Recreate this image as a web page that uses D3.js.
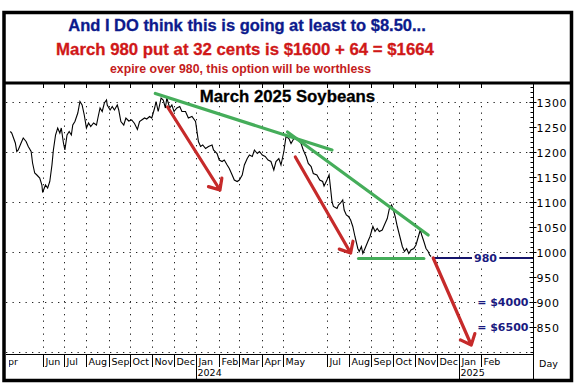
<!DOCTYPE html>
<html>
<head>
<meta charset="utf-8">
<script src="https://cdn.jsdelivr.net/npm/d3@7"></script>
<style>
  body { margin: 0; background: #fff; }
</style>
</head>
<body>
<div id="chart"></div>
<script>
var width = 584, height = 387;

// header text
var headLines = ['And I DO think this is going at least to $8.50...',
  'March 980 put at 32 cents is $1600 + 64 = $1664',
  'expire over 980, this option will be worthless'];
var chartTitle = 'March 2025 Soybeans';

// closes: [days after 1 Apr 2023, cents/bu]
var seriesStart = new Date(2023, 3, 1);
var closeSeries = [
  [16,1241],[18,1238],[23,1218],[25,1201],[27,1204],[31,1218],[34,1228],[38,1221],[41,1211],[45,1201],
  [47,1178],[50,1158],[53,1154],[57,1148],[60,1134],[61,1119],[65,1134],[68,1128],[71,1141],[74,1174],
  [76,1204],[79,1234],[82,1248],[85,1238],[87,1248],[90,1218],[92,1204],[95,1234],[98,1241],[101,1234],
  [103,1254],[106,1261],[110,1278],[113,1301],[116,1294],[119,1274],[122,1248],[125,1258],[128,1251],[132,1258],
  [136,1254],[138,1268],[141,1288],[144,1281],[147,1298],[150,1304],[151,1294],[155,1284],[158,1291],[161,1284],
  [165,1294],[167,1284],[170,1261],[174,1254],[177,1268],[181,1262],[185,1264],[189,1257],[193,1245],[196,1261],
  [199,1264],[203,1268],[206,1266],[210,1271],[213,1268],[217,1288],[219,1301],[222,1281],[226,1308],[229,1304],
  [232,1288],[234,1308],[238,1288],[241,1294],[244,1281],[248,1288],[252,1291],[255,1281],[260,1281],[264,1268],
  [269,1271],[274,1261],[278,1221],[281,1211],[284,1214],[288,1207],[292,1211],[297,1214],[299,1204],[304,1197],
  [307,1184],[311,1181],[314,1184],[318,1174],[321,1167],[325,1154],[328,1144],[332,1141],[335,1144],[339,1154],
  [342,1174],[346,1187],[349,1194],[353,1191],[356,1204],[360,1197],[363,1201],[367,1194],[371,1191],[375,1184],
  [379,1181],[383,1164],[386,1181],[390,1187],[393,1174],[397,1201],[400,1231],[404,1227],[407,1217],[411,1227],
  [414,1229],[418,1222],[421,1217],[424,1204],[428,1191],[431,1177],[435,1171],[438,1157],[443,1154],[447,1144],
  [451,1141],[453,1132],[457,1144],[460,1154],[462,1128],[464,1101],[466,1091],[471,1087],[473,1094],[476,1098],
  [479,1104],[481,1084],[484,1074],[487,1071],[490,1064],[493,1051],[496,1031],[500,1007],[502,1001],[505,1011],
  [507,997],[510,1007],[514,1021],[517,1031],[521,1051],[524,1041],[527,1047],[530,1041],[534,1044],[537,1054],
  [541,1067],[544,1087],[547,1094],[549,1087],[552,1071],[555,1051],[558,1034],[562,1011],[565,1001],[568,1007],
  [571,997],[574,1004],[578,1007],[581,1014],[585,1034],[587,1044],[589,1034],[592,1021],[595,1007],[598,1001],
  [600,994],[602,991]
];

// axis ticks
var monthTicks = ['2023-04-01','2023-06-01','2023-07-01','2023-08-01','2023-09-01','2023-10-01','2023-11-01',
  '2023-12-01','2024-01-01','2024-02-01','2024-03-01','2024-04-01','2024-05-01','2024-07-01','2024-08-01',
  '2024-09-01','2024-10-01','2024-11-01','2024-12-01','2025-01-01','2025-02-01'];
var yearTicks = ['2024-01-01', '2025-01-01'];
var priceTicks = [850, 900, 950, 1000, 1050, 1100, 1150, 1200, 1250, 1300];
var gridPrices = [800, 900, 1000, 1100, 1200, 1300];

// hand drawn lines: [day, price, day, price]
var greenLines = [[218,1317,464,1204], [402,1240,598,1034], [501,987,592,987]];
var redArrows = [[235,1290,308,1124], [413,1190,490,998], [605,988,658,814]];
var strikeLine = {day: 605, price: 988, label: '980'};
var costLabels = [{price: 900, text: '= $4000'}, {price: 850, text: '= $6500'}];

var parseDay = d3.timeParse('%Y-%m-%d');
var toDate = function(n) { return d3.timeDay.offset(seriesStart, n); };

var plotL = 6, plotR = 533, plotT = 84, plotB = 354;

var x = d3.scaleTime()
  .domain([new Date(2023, 3, 11), new Date(2025, 3, 14)])
  .range([plotL, plotR]);
var y = d3.scaleLinear()
  .domain([796, 1336])
  .range([plotB, plotT]);

var svg = d3.select('#chart').append('svg')
  .attr('width', width)
  .attr('height', height)
  .style('font-family', 'DejaVu Sans, sans-serif');

svg.append('rect').attr('width', width).attr('height', height).attr('fill', '#fff');

svg.append('clipPath').attr('id', 'plot')
  .append('rect').attr('x', plotL).attr('y', plotT).attr('width', plotR - plotL).attr('height', plotB - plotT);
svg.append('clipPath').attr('id', 'monthclip')
  .append('rect').attr('x', 9).attr('y', plotB).attr('width', plotR - 9).attr('height', 30);

var plot = svg.append('g').attr('clip-path', 'url(#plot)');

// dotted grid
plot.selectAll('.hgrid').data(gridPrices).enter().append('line')
  .attr('x1', plotL).attr('x2', plotR)
  .attr('y1', d => y(d) + 0.5).attr('y2', d => y(d) + 0.5)
  .attr('stroke', '#222').attr('stroke-dasharray', '1.3,5.2');
plot.selectAll('.vgrid').data(monthTicks.map(parseDay)).enter().append('line')
  .attr('x1', d => Math.round(x(d)) + 0.5).attr('x2', d => Math.round(x(d)) + 0.5)
  .attr('y1', y(1300) + 4).attr('y2', y(800))
  .attr('stroke', '#222').attr('stroke-dasharray', '1.3,5.2');

// title
var title = plot.append('text')
  .attr('x', 287.5).attr('y', 101.5)
  .attr('text-anchor', 'middle')
  .style('font-family', 'Liberation Sans, Arial, sans-serif')
  .style('font-weight', 'bold').style('font-size', '16.8px')
  .attr('stroke', '#000').attr('stroke-width', 0.3)
  .text(chartTitle);
var tb = title.node().getBBox();
plot.insert('rect', 'text').attr('x', tb.x - 2).attr('y', tb.y).attr('width', tb.width + 4).attr('height', tb.height - 2).attr('fill', '#fff');

// price
var line = d3.line()
  .x(d => x(toDate(d[0])))
  .y(d => y(d[1]));
plot.append('path')
  .datum(closeSeries)
  .attr('d', line)
  .attr('fill', 'none')
  .attr('stroke', '#000')
  .attr('stroke-width', 1.1);

// green trend lines
plot.selectAll('.trend').data(greenLines).enter().append('line')
  .attr('x1', d => x(toDate(d[0]))).attr('y1', d => y(d[1]))
  .attr('x2', d => x(toDate(d[2]))).attr('y2', d => y(d[3]))
  .attr('stroke', '#45ad5a').attr('stroke-width', 3.2).attr('stroke-linecap', 'round');

// strike line
var sy = y(strikeLine.price);
plot.append('line')
  .attr('x1', x(toDate(strikeLine.day))).attr('x2', plotR)
  .attr('y1', sy).attr('y2', sy)
  .attr('stroke', '#14146b').attr('stroke-width', 2);

function boxedLabel(txt, xPos, yPos, anchor) {
  var t = plot.append('text')
    .attr('x', xPos).attr('y', yPos)
    .attr('text-anchor', anchor)
    .style('font-weight', 'bold').style('font-size', '11px')
    .attr('fill', '#1a1a80')
    .text(txt);
  var b = t.node().getBBox();
  plot.insert('rect', function() { return t.node(); })
    .attr('x', b.x - 2).attr('y', b.y + 1).attr('width', b.width + 4).attr('height', b.height - 2)
    .attr('fill', '#fff');
}
boxedLabel(strikeLine.label, 485.5, sy + 4, 'middle');
costLabels.forEach(function(c) { boxedLabel(c.text, 528.5, y(c.price) + 4, 'end'); });

// red arrows
var arrows = plot.selectAll('.arrow').data(redArrows).enter().append('g');
arrows.append('path')
  .attr('d', function(d) {
    var x0 = x(toDate(d[0])), y0 = y(d[1]), x1 = x(toDate(d[2])), y1 = y(d[3]);
    var a = Math.atan2(y1 - y0, x1 - x0), L = 12, s = 0.72;
    return 'M' + x0 + ',' + y0 + 'L' + x1 + ',' + y1 +
      'M' + (x1 - L * Math.cos(a - s)) + ',' + (y1 - L * Math.sin(a - s)) + 'L' + x1 + ',' + y1 +
      'L' + (x1 - L * Math.cos(a + s)) + ',' + (y1 - L * Math.sin(a + s));
  })
  .attr('fill', 'none')
  .attr('stroke', '#c62a2a').attr('stroke-width', 3.2)
  .attr('stroke-linecap', 'round').attr('stroke-linejoin', 'round');

// right price axis
var ax = svg.append('g');
ax.append('line').attr('x1', plotR + 0.5).attr('x2', plotR + 0.5).attr('y1', plotT).attr('y2', 380).attr('stroke', '#000');
ax.selectAll('.minor').data(d3.range(800, 1331, 10)).enter().append('line')
  .attr('x1', plotR - 2.5).attr('x2', plotR)
  .attr('y1', d => y(d) + 0.5).attr('y2', d => y(d) + 0.5)
  .attr('stroke', '#000');
ax.selectAll('.major').data(priceTicks).enter().append('line')
  .attr('x1', plotR - 3.5).attr('x2', plotR + 3.5)
  .attr('y1', d => y(d) + 0.5).attr('y2', d => y(d) + 0.5)
  .attr('stroke', '#000');
ax.selectAll('.plab').data(priceTicks).enter().append('text')
  .attr('x', plotR + 3.5).attr('y', d => y(d) + 4.5)
  .style('font-size', '11px').style('letter-spacing', '0.7px')
  .text(d => d);
ax.append('text').attr('x', 548.5).attr('y', 367).attr('text-anchor', 'middle')
  .style('font-size', '9.5px').text('Day');

// month axis
var mx = svg.append('g');
mx.append('line').attr('x1', plotL).attr('x2', plotR).attr('y1', plotB + 0.5).attr('y2', plotB + 0.5).attr('stroke', '#000');
var months = monthTicks.map(parseDay);
mx.selectAll('.sep').data(months).enter().append('line')
  .attr('x1', d => Math.round(x(d)) + 0.5).attr('x2', d => Math.round(x(d)) + 0.5)
  .attr('y1', plotB).attr('y2', d => d.getMonth() === 0 ? 379 : 367)
  .attr('stroke', '#000');
mx.selectAll('.top').data(months).enter().append('line')
  .attr('x1', d => Math.round(x(d)) + 0.5).attr('x2', d => Math.round(x(d)) + 0.5)
  .attr('y1', plotT).attr('y2', plotT + 4)
  .attr('stroke', '#000');
mx.append('g').attr('clip-path', 'url(#monthclip)')
  .selectAll('.mlab').data(months).enter().append('text')
  .attr('x', d => Math.round(x(d)) + 2.5).attr('y', 364.5)
  .style('font-size', '9.5px')
  .text(d3.timeFormat('%b'));
mx.selectAll('.ylab').data(yearTicks.map(parseDay)).enter().append('text')
  .attr('x', d => Math.round(x(d)) + 1.5).attr('y', 375.5)
  .style('font-size', '9.5px')
  .text(d3.timeFormat('%Y'));

// header
var hd = svg.append('g').style('font-family', 'Liberation Sans, Arial, sans-serif').style('font-weight', 'bold');
hd.append('text').attr('x', 247).attr('y', 30.5).attr('text-anchor', 'middle')
  .style('font-size', '16.5px').attr('fill', '#0c1a8c').attr('stroke', '#0c1a8c').attr('stroke-width', 0.3)
  .text(headLines[0]);
hd.append('text').attr('x', 245).attr('y', 55).attr('text-anchor', 'middle')
  .style('font-size', '16.8px').attr('fill', '#d01818').attr('stroke', '#d01818').attr('stroke-width', 0.3)
  .text(headLines[1]);
hd.append('text').attr('x', 240.5).attr('y', 72.5).attr('text-anchor', 'middle')
  .style('font-size', '12.3px').attr('fill', '#c41c1c').text(headLines[2]);

// frame
svg.append('rect').attr('x', 4).attr('y', 12.5).attr('width', 567.5).attr('height', 368)
  .attr('fill', 'none').attr('stroke', '#000').attr('stroke-width', 3.5);
svg.append('line').attr('x1', 4).attr('x2', 571.5).attr('y1', 83).attr('y2', 83)
  .attr('stroke', '#000').attr('stroke-width', 3);
</script>
</body>
</html>
